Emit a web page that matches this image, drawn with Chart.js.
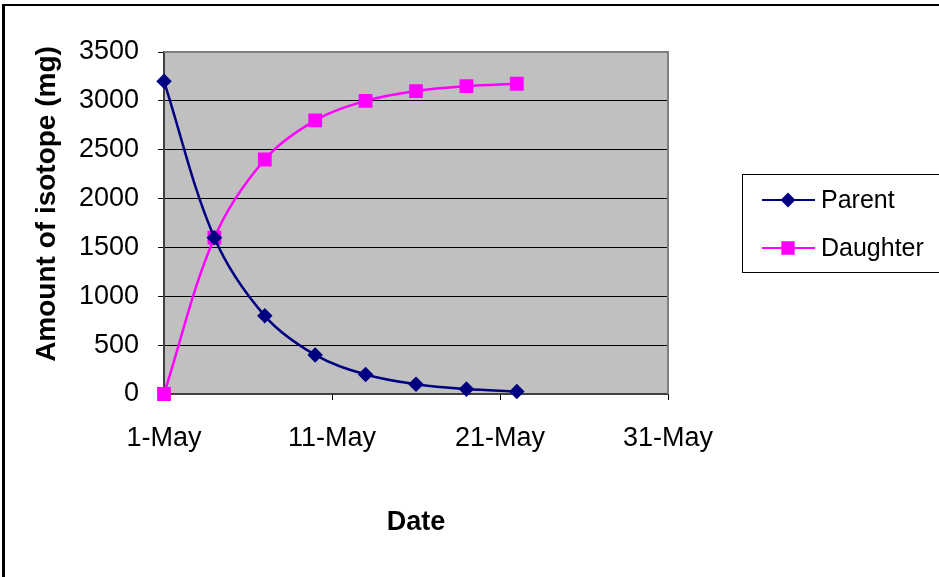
<!DOCTYPE html>
<html>
<head>
<meta charset="utf-8">
<script src="https://cdn.jsdelivr.net/npm/chart.js@4.4.1/dist/chart.umd.min.js"></script>
<style>
    html, body { margin: 0; padding: 0; background: #fff; overflow: hidden; }
    #wrap { position: relative; width: 939px; height: 577px; }
    #frame {
        position: absolute; left: 2px; top: 4px; width: 1200px; height: 900px;
        border-left: 3px solid #000; border-top: 2px solid #000; pointer-events: none;
    }
</style>
</head>
<body>
<div id="wrap">
    <canvas id="decayChart" width="939" height="577"></canvas>
    <div id="frame"></div>
</div>
<script>
// days after 1-May
const dayOffsets = [0, 3, 6, 9, 12, 15, 18, 21];
const parentValues = [3200, 1600, 800, 400, 200, 100, 50, 25];
const daughterValues = [0, 1600, 2400, 2800, 3000, 3100, 3150, 3175];
const dateTickLabels = ["1-May", "11-May", "21-May", "31-May"];
const seriesNames = ["Parent", "Daughter"];

const FONT = "'Liberation Sans', Arial, sans-serif";

const plotBackground = {
    id: "plotBackground",
    beforeDraw(chart) {
        const { ctx, chartArea: a } = chart;
        ctx.save();
        ctx.fillStyle = "#c0c0c0";
        ctx.fillRect(a.left, a.top, a.right - a.left, a.bottom - a.top);
        ctx.restore();
    },
    afterDatasetsDraw(chart) {
        const { ctx, chartArea: a } = chart;
        ctx.save();
        ctx.strokeStyle = "#808080";
        ctx.lineWidth = 2;
        ctx.beginPath();
        ctx.moveTo(a.left, a.top);
        ctx.lineTo(a.right, a.top);
        ctx.lineTo(a.right, a.bottom);
        ctx.stroke();
        ctx.restore();
    }
};

const extras = {
    id: "extras",
    afterDraw(chart) {
        const ctx = chart.ctx;
        ctx.save();
        // y axis title
        ctx.translate(47, 204);
        ctx.rotate(-Math.PI / 2);
        ctx.font = "bold 28px " + FONT;
        ctx.fillStyle = "#000";
        ctx.textAlign = "center";
        ctx.textBaseline = "middle";
        ctx.fillText("Amount of isotope (mg)", 0, 0);
        ctx.restore();

        // legend box
        ctx.save();
        ctx.strokeStyle = "#000";
        ctx.lineWidth = 1;
        ctx.strokeRect(742.5, 174.5, 220, 98);
        const rows = [200, 248];
        chart.data.datasets.forEach((ds, i) => {
            const y = rows[i];
            ctx.strokeStyle = ds.borderColor;
            ctx.lineWidth = 2;
            ctx.beginPath();
            ctx.moveTo(762, y);
            ctx.lineTo(815, y);
            ctx.stroke();
            Chart.helpers.drawPoint(ctx, {
                pointStyle: ds.pointStyle,
                radius: ds.pointRadius,
                rotation: 0,
                borderWidth: 1
            }, 788, y);
            ctx.fillStyle = ds.pointBackgroundColor;
            ctx.fill();
            ctx.fillStyle = "#000";
            ctx.font = "25px " + FONT;
            ctx.textAlign = "left";
            ctx.textBaseline = "middle";
            ctx.fillText(ds.label, 821, y + 1);
        });
        ctx.restore();
    }
};

function toPoints(values) {
    return values.map((v, i) => ({ x: dayOffsets[i], y: v }));
}

const ctx = document.getElementById("decayChart").getContext("2d");

new Chart(ctx, {
    type: "line",
    data: {
        datasets: [{
            label: seriesNames[0],
            data: toPoints(parentValues),
            borderColor: "#000080",
            backgroundColor: "#000080",
            pointBackgroundColor: "#000080",
            pointBorderColor: "#000080",
            pointStyle: "rectRot",
            pointRadius: 6,
            borderWidth: 2.5,
            tension: 0.35,
            clip: false
        }, {
            label: seriesNames[1],
            data: toPoints(daughterValues),
            borderColor: "#ff00ff",
            backgroundColor: "#ff00ff",
            pointBackgroundColor: "#ff00ff",
            pointBorderColor: "#ff00ff",
            pointStyle: "rect",
            pointRadius: 8,
            borderWidth: 2.5,
            tension: 0.35,
            clip: false
        }]
    },
    options: {
        responsive: false,
        animation: false,
        layout: {
            padding: { left: 0, top: 52, right: 271, bottom: 0 }
        },
        plugins: {
            legend: { display: false },
            tooltip: { enabled: false }
        },
        scales: {
            x: {
                type: "linear",
                min: 0,
                max: 30,
                afterFit(scale) { scale.height = 183; },
                ticks: {
                    stepSize: 10,
                    padding: 22,
                    color: "#000",
                    font: { family: FONT, size: 27 },
                    callback: v => dateTickLabels[v / 10]
                },
                grid: {
                    drawOnChartArea: false,
                    tickLength: 6,
                    tickColor: "#000",
                    tickWidth: 1
                },
                border: { color: "#404040", width: 2 },
                title: {
                    display: true,
                    text: "Date",
                    color: "#000",
                    font: { family: FONT, size: 27, weight: "bold" },
                    padding: { top: 0, bottom: 38 }
                }
            },
            y: {
                min: 0,
                max: 3500,
                afterFit(scale) { scale.width = 164; },
                ticks: {
                    stepSize: 500,
                    padding: 19,
                    color: "#000",
                    font: { family: FONT, size: 27 },
                    callback: v => String(v)
                },
                grid: {
                    color: "#000",
                    lineWidth: 1,
                    tickLength: 6,
                    tickColor: "#000",
                    drawTicks: true
                },
                border: { color: "#404040", width: 2 }
            }
        }
    },
    plugins: [plotBackground, extras]
});
</script>
</body>
</html>
